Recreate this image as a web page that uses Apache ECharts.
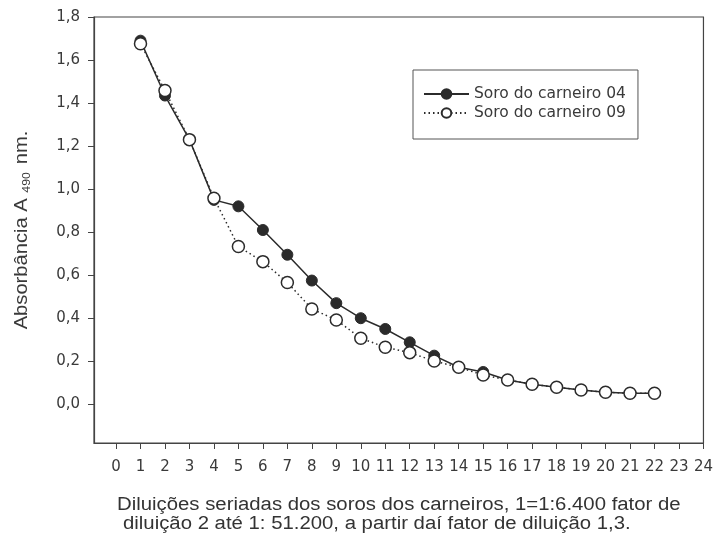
<!DOCTYPE html>
<html>
<head>
<meta charset="utf-8">
<script src="https://cdn.jsdelivr.net/npm/echarts@6/dist/echarts.min.js"></script>
<style>
  html, body { margin: 0; padding: 0; background: #fff; }
  #chart { width: 716px; height: 537px; }
</style>
</head>
<body>
<div id="chart"></div>
<script>
  // dilution steps
  const diluicoes = [1, 2, 3, 4, 5, 6, 7, 8, 9, 10, 11, 12, 13, 14, 15, 16, 17, 18, 19, 20, 21, 22];
  const carneiro04 = [1.69, 1.435, 1.23, 0.95, 0.92, 0.81, 0.695, 0.575, 0.47, 0.40, 0.35, 0.288, 0.226, 0.172, 0.15, 0.113, 0.093, 0.079, 0.066, 0.056, 0.051, 0.051];
  const carneiro09 = [1.676, 1.458, 1.23, 0.958, 0.733, 0.663, 0.566, 0.443, 0.392, 0.307, 0.265, 0.24, 0.201, 0.172, 0.136, 0.113, 0.093, 0.079, 0.066, 0.056, 0.051, 0.051];
  const xTicks = [0, 1, 2, 3, 4, 5, 6, 7, 8, 9, 10, 11, 12, 13, 14, 15, 16, 17, 18, 19, 20, 21, 22, 23, 24];
  const yTicks = [0, 0.2, 0.4, 0.6, 0.8, 1.0, 1.2, 1.4, 1.6, 1.8];

  const ink = '#2b2b2b';
  const axisColor = '#444';
  const labelFont = '"DejaVu Sans", sans-serif';
  const titleFont = '"Liberation Sans", Arial, sans-serif';

  const chart = echarts.init(document.getElementById('chart'));

  chart.setOption({
    animation: false,
    backgroundColor: '#fff',
    textStyle: { fontFamily: labelFont, color: '#3a3a3a' },
    grid: {
      left: 94,
      right: 11,
      top: 17,
      bottom: 94,
      show: true,
      borderColor: axisColor,
      borderWidth: 1.2
    },
    legend: {
      left: 413,
      top: 70,
      orient: 'vertical',
      itemWidth: 45,
      itemHeight: 12,
      itemGap: 3,
      padding: [16, 12, 18, 10],
      borderColor: '#555',
      borderWidth: 1,
      textStyle: { fontSize: 15.5, color: '#3a3a3a', fontFamily: labelFont },
      data: ['Soro do carneiro 04', 'Soro do carneiro 09']
    },
    xAxis: {
      type: 'value',
      min: -0.9,
      max: 24,
      splitLine: { show: false },
      axisLine: { onZero: false, lineStyle: { color: axisColor, width: 1.2 } },
      axisTick: { show: true, length: 6, customValues: xTicks, lineStyle: { color: axisColor } },
      axisLabel: {
        customValues: xTicks,
        margin: 17,
        fontSize: 15,
        color: '#3a3a3a',
        fontFamily: labelFont
      }
    },
    yAxis: {
      type: 'value',
      min: -0.18,
      max: 1.8,
      splitLine: { show: false },
      axisLine: { show: true, onZero: false, lineStyle: { color: axisColor, width: 1.2 } },
      axisTick: { show: true, length: 6, customValues: yTicks, lineStyle: { color: axisColor } },
      axisLabel: {
        customValues: yTicks,
        margin: 14,
        fontSize: 15,
        color: '#3a3a3a',
        fontFamily: labelFont,
        formatter: v => v.toFixed(1).replace('.', ',')
      }
    },
    graphic: [
      {
        type: 'text',
        x: 22,
        y: 230,
        rotation: Math.PI / 2,
        scaleX: 1.12,
        style: {
          text: 'Absorbância A {sub|490} nm.',
          font: '18px ' + titleFont,
          fill: '#3a3a3a',
          align: 'center',
          verticalAlign: 'middle',
          rich: {
            sub: { fontSize: 11, fill: '#3a3a3a', fontFamily: titleFont, verticalAlign: 'bottom', padding: [9, 2, 0, 0] }
          }
        }
      },
      {
        type: 'text',
        x: 117,
        y: 505,
        scaleX: 1.13,
        style: {
          text: 'Diluições seriadas dos soros dos carneiros, 1=1:6.400 fator de',
          font: '18px ' + titleFont,
          fill: '#333',
          verticalAlign: 'middle'
        }
      },
      {
        type: 'text',
        x: 123,
        y: 524,
        scaleX: 1.13,
        style: {
          text: 'diluição 2 até 1: 51.200, a partir daí fator de diluição 1,3.',
          font: '18px ' + titleFont,
          fill: '#333',
          verticalAlign: 'middle'
        }
      }
    ],
    series: [
      {
        name: 'Soro do carneiro 04',
        type: 'line',
        data: diluicoes.map((d, i) => [d, carneiro04[i]]),
        symbol: 'circle',
        symbolSize: 11,
        itemStyle: { color: ink, borderColor: ink, borderWidth: 1 },
        lineStyle: { color: ink, width: 1.5 },
        z: 2
      },
      {
        name: 'Soro do carneiro 09',
        type: 'line',
        data: diluicoes.map((d, i) => [d, carneiro09[i]]),
        symbol: 'circle',
        symbolSize: 12,
        itemStyle: { color: '#fff', borderColor: ink, borderWidth: 1.5 },
        lineStyle: { color: ink, width: 1.5, type: [1.5, 3] },
        z: 3
      }
    ]
  });
</script>
</body>
</html>
